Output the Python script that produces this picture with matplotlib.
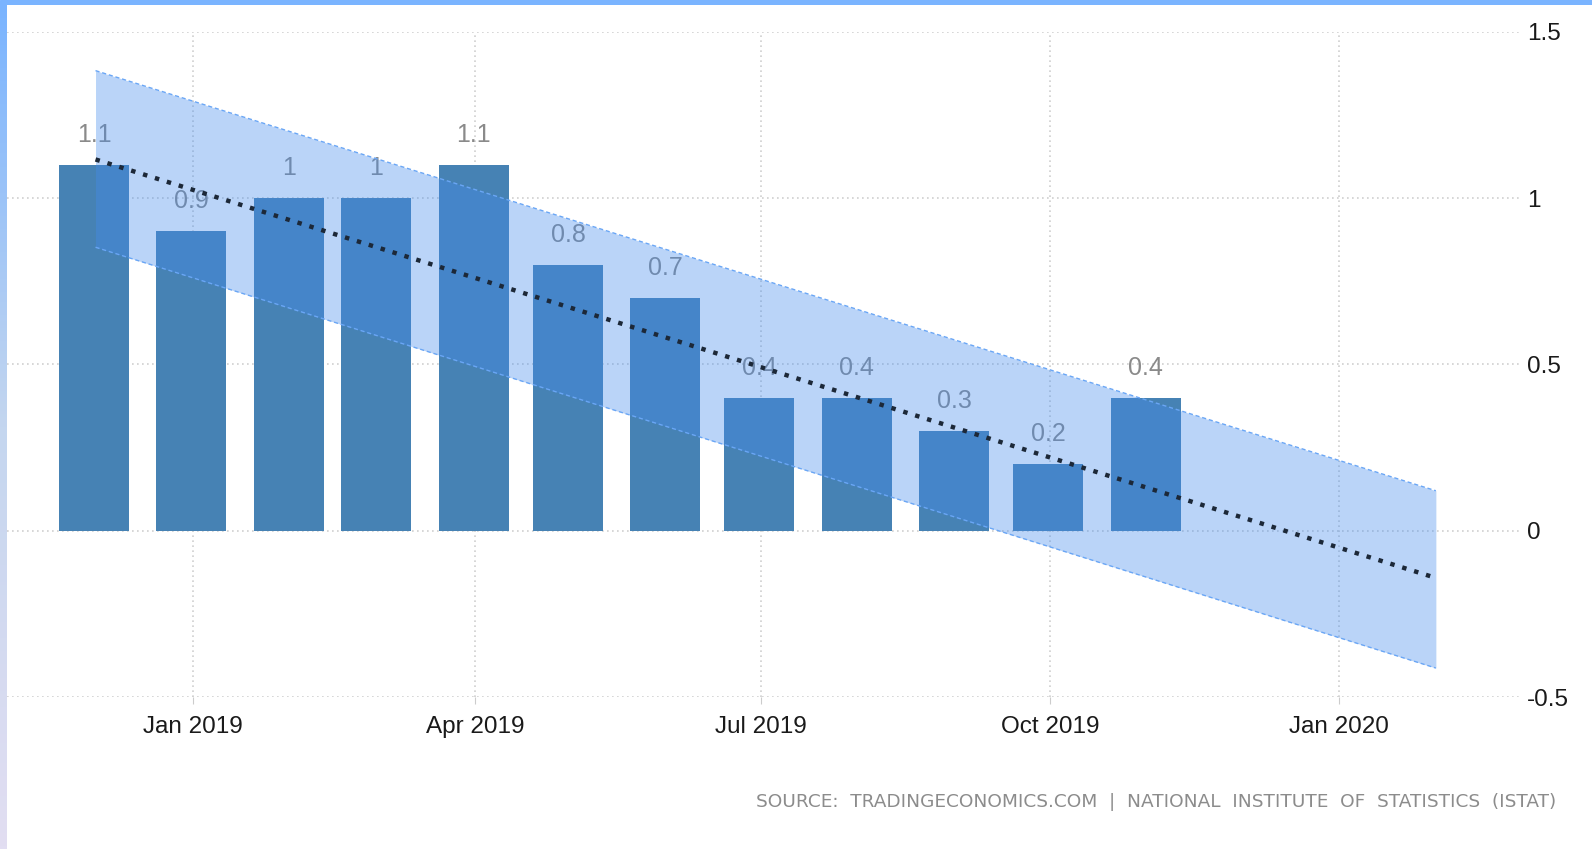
import matplotlib
matplotlib.use("Agg")
import matplotlib.pyplot as plt
import matplotlib.dates as mdates
import numpy as np
from datetime import date
from matplotlib.colors import LinearSegmentedColormap

# ---- data ----
months = ["2018-12-01", "2019-01-01", "2019-02-01", "2019-03-01", "2019-04-01", "2019-05-01",
          "2019-06-01", "2019-07-01", "2019-08-01", "2019-09-01", "2019-10-01", "2019-11-01"]
values = [1.1, 0.9, 1.0, 1.0, 1.1, 0.8, 0.7, 0.4, 0.4, 0.3, 0.2, 0.4]
labels = ["1.1", "0.9", "1", "1", "1.1", "0.8", "0.7", "0.4", "0.4", "0.3", "0.2", "0.4"]

trend_dates = ["2018-12-01", "2020-02-01"]
trend_values = [1.116, -0.142]
band_upper = [1.383, 0.120]
band_lower = [0.852, -0.413]

xtick_dates = ["2019-01-01", "2019-04-01", "2019-07-01", "2019-10-01", "2020-01-01"]
xtick_labels = ["Jan 2019", "Apr 2019", "Jul 2019", "Oct 2019", "Jan 2020"]
ytick_values = [-0.5, 0, 0.5, 1, 1.5]
ytick_labels = ["-0.5", "0", "0.5", "1", "1.5"]
source_text = "SOURCE:  TRADINGECONOMICS.COM  |  NATIONAL  INSTITUTE  OF  STATISTICS  (ISTAT)"

W, H = 1592, 849
fig = plt.figure(figsize=(W / 100, H / 100), dpi=100)
fig.patch.set_facecolor("white")

# frame strips (top and left gradient)
top = fig.add_axes([0, 1 - 5 / H, 1, 5 / H])
top.axis("off")
top.add_patch(plt.Rectangle((0, 0), 1, 1, transform=top.transAxes, color="#7ab4ff"))
left = fig.add_axes([0, 0, 7 / W, 1 - 5 / H])
left.axis("off")
grad = np.linspace(0, 1, 256).reshape(-1, 1)
cmap = LinearSegmentedColormap.from_list("g", ["#7ab4ff", "#c4d6ef", "#e2def2"])
left.imshow(grad, aspect="auto", cmap=cmap, extent=[0, 1, 0, 1], origin="upper")

ax_left = 7 / W
ax_right = 1520 / W
ax_top = 1 - 31.7 / H
ax_bot = 1 - 697 / H
ax = fig.add_axes([ax_left, ax_bot, ax_right - ax_left, ax_top - ax_bot])
ax.set_facecolor("none")

xd = mdates.datestr2num(months) - 0.5
ax.bar(xd, values, width=22.3, color="#4682b4", zorder=2)

for x, v, l in zip(xd, values, labels):
    ax.text(x, v + 0.09, l, ha="center", va="center", fontsize=18,
            color="#8a8a8a", family="Liberation Sans", zorder=3)

td = mdates.datestr2num(trend_dates)
ax.fill_between(td, band_lower, band_upper, color="#448cee", alpha=0.37,
                linewidth=0, zorder=4)
ax.plot(td, band_upper, color="#6aa6f5", lw=1.0, ls=(0, (3, 2)), zorder=4)
ax.plot(td, band_lower, color="#6aa6f5", lw=1.0, ls=(0, (3, 2)), zorder=4)
ax.plot(td, trend_values, color="#1c2838", lw=3.2, ls=(0, (1, 1.8)), zorder=5)

ax.set_xlim(mdates.date2num(date(2018, 11, 2)) + 0.8, mdates.date2num(date(2020, 2, 27)) + 0.8)
ax.set_ylim(-0.5, 1.5)

ax.set_xticks(mdates.datestr2num(xtick_dates))
ax.set_xticklabels(xtick_labels, fontsize=17.5, family="Liberation Sans", color="#1a1a1a")
ax.set_yticks(ytick_values)
ax.set_yticklabels(ytick_labels, fontsize=17.5, family="Liberation Sans", color="#1a1a1a")
ax.yaxis.tick_right()
ax.tick_params(axis="y", length=0, pad=5)
ax.tick_params(axis="x", length=5, color="#cccccc", pad=9)
for lab in ax.get_yticklabels():
    lab.set_horizontalalignment("left")

ax.grid(True, color="#cfcfcf", ls=(0, (1, 2)), lw=1.2, zorder=0)
ax.set_axisbelow(True)
for s in ax.spines.values():
    s.set_visible(False)

fig.text(1556 / W, 1 - 802 / H, source_text, ha="right", va="center",
         fontsize=13.3, color="#8c8c8c", family="DejaVu Sans")

fig.savefig("out.png", dpi=100)
